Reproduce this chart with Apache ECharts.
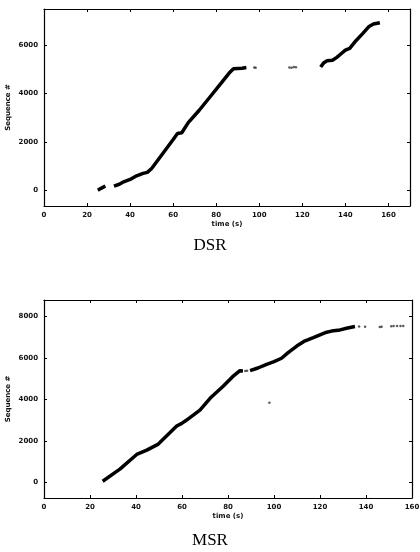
<!DOCTYPE html>
<html>
<head>
<meta charset="utf-8">
<script src="https://cdn.jsdelivr.net/npm/echarts@6/dist/echarts.min.js"></script>
<style>html,body{margin:0;padding:0;background:#fff;}#c{width:420px;height:552px;}</style>
</head>
<body>
<div id="c"></div>
<script>
// ---- Data (time s, sequence #) ----
const xTicksTop = [0, 20, 40, 60, 80, 100, 120, 140, 160];
const xTicksBottom = [0, 20, 40, 60, 80, 100, 120, 140, 160];
const yTicksTop = [0, 2000, 4000, 6000];
const yTicksBottom = [0, 2000, 4000, 6000, 8000];

const dsrSeg1 = [[25,0],[26.5,80],[28.5,180]];
const dsrSeg2 = [[32.5,170],[35,250],[37,350],[40,450],[43,600],[46,700],[48,740],[50,900],[55,1500],[60,2100],[62,2350],[64,2380],[67,2800],[72,3300],[77,3850],[82,4400],[86,4850],[88,5030],[92,5050],[94,5080]];
const dsrDots = [[97.7,5080],[98.3,5070],[114,5080],[115,5070],[116,5100],[117,5090]];
const dsrSeg3 = [[128.5,5100],[130,5280],[131.5,5360],[134,5380],[136,5500],[138,5650],[140,5800],[142,5870],[145,6200],[148,6480],[151,6780],[153,6880],[156,6930]];

const msrSeg1 = [[25.5,60],[33,640],[40.3,1350],[44.7,1560],[49.7,1850],[57.7,2720],[59.9,2850],[62,3010],[67.8,3490],[72.2,4060],[78,4650],[82,5100],[85.2,5390],[86.5,5380]];
const msrSeg2 = [[89.6,5390],[93,5520],[96.8,5700],[100,5830],[103.3,5990],[106,6250],[109.9,6580],[113,6800],[117.1,6985],[120,7120],[122.9,7246],[125,7300],[128.7,7357],[132,7450],[135.2,7520]];
const msrDots = [[87.5,5370],[88.3,5390],[137,7520],[139.6,7510],[146,7500],[146.8,7510],[151,7530],[152,7540],[153.5,7550],[155,7550],[156.2,7540],[98,3845]];

const labelFont = {fontSize: 7, fontFamily: 'DejaVu Sans', color: '#111', fontWeight: 'bold'};
const plain = v => String(v);

function ax(o, ticks, withLabels) {
  const base = {
    type: 'value',
    splitLine: {show: false},
    nameMoveOverlap: false,
    axisLine: {show: true, onZero: false, lineStyle: {color: '#000', width: 1.2}},
    axisTick: {show: true, inside: true, length: 3, customValues: ticks, lineStyle: {color: '#000', width: 1}},
    axisLabel: withLabels ? Object.assign({customValues: ticks, formatter: plain, margin: 6}, labelFont) : {show: false}
  };
  return Object.assign(base, o);
}

const option = {
  animation: false,
  backgroundColor: '#fff',
  title: [
    {text: 'DSR', left: 'center', top: 232, textStyle: {fontFamily: 'Liberation Serif', fontSize: 17, fontWeight: 'normal', color: '#000'}},
    {text: 'MSR', left: 'center', top: 527, textStyle: {fontFamily: 'Liberation Serif', fontSize: 17, fontWeight: 'normal', color: '#000'}}
  ],
  grid: [
    {left: 44, top: 9, width: 366, height: 197, containLabel: false, outerBoundsMode: 'none'},
    {left: 44, top: 300, width: 368, height: 198, containLabel: false, outerBoundsMode: 'none'}
  ],
  xAxis: [
    ax({gridIndex: 0, min: 0, max: 170, position: 'bottom', name: 'time (s)', nameLocation: 'middle', nameGap: 15, nameTextStyle: labelFont}, xTicksTop, true),
    ax({gridIndex: 0, min: 0, max: 170, position: 'top'}, xTicksTop, false),
    ax({gridIndex: 1, min: 0, max: 160, position: 'bottom', name: 'time (s)', nameLocation: 'middle', nameGap: 15, nameTextStyle: labelFont}, xTicksBottom, true),
    ax({gridIndex: 1, min: 0, max: 160, position: 'top'}, xTicksBottom, false)
  ],
  yAxis: [
    ax({gridIndex: 0, min: -650, max: 7500, position: 'left', name: 'Sequence #', nameLocation: 'middle', nameGap: 32, nameTextStyle: labelFont}, yTicksTop, true),
    ax({gridIndex: 0, min: -650, max: 7500, position: 'right'}, yTicksTop, false),
    ax({gridIndex: 1, min: -750, max: 8800, position: 'left', name: 'Sequence #', nameLocation: 'middle', nameGap: 32, nameTextStyle: labelFont}, yTicksBottom, true),
    ax({gridIndex: 1, min: -750, max: 8800, position: 'right'}, yTicksBottom, false)
  ],
  series: [
    {type: 'line', xAxisIndex: 0, yAxisIndex: 0, data: dsrSeg1, showSymbol: false, lineStyle: {color: '#000', width: 3.5}},
    {type: 'line', xAxisIndex: 0, yAxisIndex: 0, data: dsrSeg2, showSymbol: false, lineStyle: {color: '#000', width: 3.5}},
    {type: 'line', xAxisIndex: 0, yAxisIndex: 0, data: dsrSeg3, showSymbol: false, lineStyle: {color: '#000', width: 3.5}},
    {type: 'scatter', xAxisIndex: 0, yAxisIndex: 0, data: dsrDots, symbolSize: 2.5, itemStyle: {color: '#333'}},
    {type: 'line', xAxisIndex: 2, yAxisIndex: 2, data: msrSeg1, showSymbol: false, lineStyle: {color: '#000', width: 3.5}},
    {type: 'line', xAxisIndex: 2, yAxisIndex: 2, data: msrSeg2, showSymbol: false, lineStyle: {color: '#000', width: 3.5}},
    {type: 'scatter', xAxisIndex: 2, yAxisIndex: 2, data: msrDots, symbolSize: 2.5, itemStyle: {color: '#333'}}
  ]
};
echarts.init(document.getElementById('c')).setOption(option);
</script>
</body>
</html>
